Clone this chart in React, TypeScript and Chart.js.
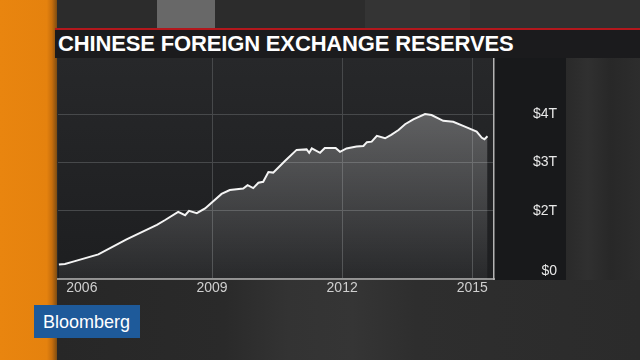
import React, { useEffect, useRef } from "react";
import { Chart, registerables } from "chart.js";

Chart.register(...registerables);

// ---------- data ----------
const TITLE = "CHINESE FOREIGN EXCHANGE RESERVES";
const BRAND = "Bloomberg";

// decimal years
const years = [
  2005.47, 2005.61, 2005.8, 2006.38, 2007.03, 2007.73, 2007.92, 2008.22, 2008.38, 2008.47,
  2008.65, 2008.84, 2009.22, 2009.41, 2009.72, 2009.82, 2009.95, 2010.07, 2010.18, 2010.3,
  2010.41, 2010.68, 2010.95, 2011.18, 2011.24, 2011.3, 2011.49, 2011.6, 2011.85, 2011.95,
  2012.1, 2012.33, 2012.49, 2012.57, 2012.68, 2012.8, 2012.99, 2013.13, 2013.3, 2013.45,
  2013.64, 2013.91, 2014.06, 2014.33, 2014.56, 2014.83, 2015.1, 2015.22, 2015.28, 2015.35,
];
// reserves, trillions of US$
const reservesT = [
  0.89, 0.9, 0.95, 1.1, 1.41, 1.71, 1.81, 1.98, 1.91, 2.0,
  1.95, 2.05, 2.35, 2.43, 2.46, 2.53, 2.47, 2.58, 2.6, 2.8,
  2.79, 3.03, 3.26, 3.27, 3.2, 3.29, 3.2, 3.3, 3.3, 3.22,
  3.29, 3.33, 3.34, 3.42, 3.43, 3.55, 3.5, 3.57, 3.67, 3.79,
  3.89, 4.0, 3.98, 3.86, 3.84, 3.74, 3.64, 3.51, 3.48, 3.54,
];

const xTickYears = [2006, 2009, 2012, 2015];
// lowest tick is the truncated axis floor, labelled "$0" on the original
const yTickValues = [0.76, 2, 3, 4];
const yTickLabels = ["$0", "$2T", "$3T", "$4T"];

const X_MIN = 2005.45;
const X_MAX = 2015.5;
const Y_MIN = 0.59;
const Y_MAX = 5.16;

const TRANSPARENT = "rgba(0,0,0,0)";
const GRID = "#47494b";

const panelPlugin = {
  id: "panels",
  beforeDraw(chart: any) {
    const { ctx, chartArea: a } = chart;
    if (!a) return;
    ctx.save();
    const g = ctx.createLinearGradient(0, a.top, 0, a.bottom);
    g.addColorStop(0, "#27282a");
    g.addColorStop(1, "#1d1e20");
    ctx.fillStyle = g;
    ctx.fillRect(a.left, a.top, a.right - a.left, a.bottom - a.top);
    ctx.fillStyle = "#18191b";
    ctx.fillRect(a.right, a.top, 72, a.bottom - a.top + 1);
    ctx.restore();
  },
};

export default function App() {
  const ref = useRef<HTMLCanvasElement | null>(null);

  useEffect(() => {
    if (!ref.current) return;
    const points = years.map((x, i) => ({ x, y: reservesT[i] }));
    const chart = new Chart(ref.current, {
      type: "line",
      data: {
        datasets: [
          {
            data: points,
            borderColor: "#f4f4f4",
            borderWidth: 2,
            pointRadius: 0,
            tension: 0,
            fill: "start",
            backgroundColor: (c: any) => {
              const ch = c.chart;
              const a = ch.chartArea;
              if (!a) return "rgba(255,255,255,0.15)";
              const topY = ch.scales.y.getPixelForValue(4.0);
              const g = ch.ctx.createLinearGradient(0, topY, 0, a.bottom);
              g.addColorStop(0, "rgba(255,255,255,0.27)");
              g.addColorStop(1, "rgba(255,255,255,0.05)");
              return g;
            },
          },
        ],
      },
      options: {
        animation: false,
        responsive: false,
        events: [],
        layout: { padding: { left: 58, top: 58, right: 83, bottom: 0 } },
        plugins: { legend: { display: false }, tooltip: { enabled: false }, title: { display: false } },
        scales: {
          x: {
            type: "linear",
            min: X_MIN,
            max: X_MAX,
            afterBuildTicks: (s: any) => {
              s.ticks = xTickYears.map((v) => ({ value: v }));
            },
            afterFit: (s: any) => {
              s.height = 81;
            },
            grid: {
              color: (c: any) => (c.tick && c.tick.value === xTickYears[0] ? TRANSPARENT : GRID),
              lineWidth: 1,
              drawTicks: false,
            },
            border: { display: true, color: "#8f8f8f", width: 2 },
            ticks: {
              autoSkip: false,
              maxRotation: 0,
              padding: 1,
              color: "#cfcfcf",
              font: { family: "'Liberation Sans', Arial, sans-serif", size: 14 },
              callback: (v: any) => String(v),
            },
          },
          y: {
            type: "linear",
            position: "right",
            min: Y_MIN,
            max: Y_MAX,
            afterBuildTicks: (s: any) => {
              s.ticks = yTickValues.map((v) => ({ value: v }));
            },
            afterFit: (s: any) => {
              s.width = 63;
            },
            grid: {
              color: (c: any) => (c.tick && c.tick.value === yTickValues[0] ? TRANSPARENT : GRID),
              lineWidth: 1,
              drawTicks: false,
            },
            border: { display: true, color: "#b4b4b4", width: 1.5 },
            ticks: {
              crossAlign: "far",
              padding: 0,
              color: "#e8e8e8",
              font: { family: "'Liberation Sans', Arial, sans-serif", size: 14 },
              callback: (_v: any, i: number) => yTickLabels[i],
            },
          },
        },
      },
      plugins: [panelPlugin],
    } as any);
    return () => chart.destroy();
  }, []);

  const abs = (s: React.CSSProperties): React.CSSProperties => ({ position: "absolute", ...s });

  return (
    <div
      style={{
        position: "fixed",
        left: 0,
        top: 0,
        width: 640,
        height: 360,
        overflow: "hidden",
        background: "#2a2a2a",
      }}
    >
      {/* top studio strip */}
      <div style={abs({ left: 0, top: 0, width: 640, height: 28, background: "#2c2c2c" })} />
      <div style={abs({ left: 157, top: 0, width: 58, height: 28, background: "#686868" })} />
      <div style={abs({ left: 365, top: 0, width: 105, height: 28, background: "#343434" })} />
      <div style={abs({ left: 470, top: 0, width: 170, height: 28, background: "#303030" })} />
      {/* right side */}
      <div
        style={abs({
          left: 566,
          top: 58,
          width: 74,
          height: 222,
          background: "linear-gradient(90deg, #2a2a2a 0%, #303030 30%, #282828 60%, #2d2d2d 100%)",
        })}
      />
      {/* bottom area */}
      <div
        style={abs({
          left: 0,
          top: 280,
          width: 640,
          height: 80,
          background:
            "linear-gradient(90deg, #262626 0%, #2a2a2a 35%, #333333 45%, #353535 55%, #2e2e2e 65%, #2b2b2b 100%)",
        })}
      />
      <canvas ref={ref} width={640} height={360} style={abs({ left: 0, top: 0, width: 640, height: 360 })} />
      {/* orange strip */}
      <div
        style={abs({
          left: 0,
          top: 0,
          width: 57,
          height: 360,
          background: "linear-gradient(90deg, #e9850f 0%, #e5820e 82%, #c86f0d 91%, #7e4c12 100%)",
        })}
      />
      {/* red rule and title bar */}
      <div style={abs({ left: 55, top: 28, width: 585, height: 2, background: "#b3171c" })} />
      <div style={abs({ left: 55, top: 30, width: 585, height: 28, background: "#1b1b1d" })} />
      <div
        style={abs({
          left: 58,
          top: 33,
          height: 22,
          lineHeight: "22px",
          fontFamily: "'Liberation Sans', Arial, sans-serif",
          fontWeight: 700,
          fontSize: 22,
          letterSpacing: "-0.15px",
          color: "#ffffff",
          whiteSpace: "nowrap",
        })}
      >
        {TITLE}
      </div>
      {/* brand box */}
      <div style={abs({ left: 34, top: 305, width: 106, height: 33, background: "#1e5a9a" })} />
      <div
        style={abs({
          left: 43,
          top: 313,
          height: 18,
          lineHeight: "18px",
          fontFamily: "'Liberation Sans', Arial, sans-serif",
          fontSize: 18,
          color: "#ffffff",
          whiteSpace: "nowrap",
        })}
      >
        {BRAND}
      </div>
    </div>
  );
}
